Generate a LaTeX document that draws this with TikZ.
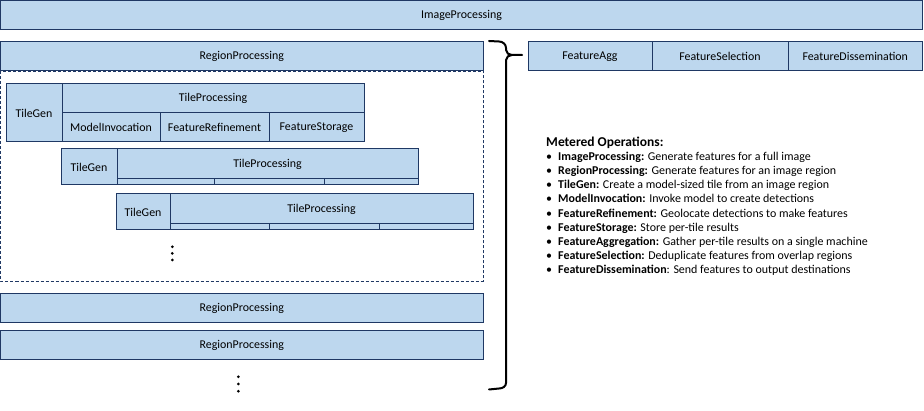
\documentclass[tikz,border=0pt]{standalone}
\usepackage{fontspec}
\setmainfont{Carlito}
\definecolor{boxfill}{HTML}{BDD7EE}
\definecolor{boxline}{HTML}{1F3864}
\tikzset{
  box/.style={draw=boxline, fill=boxfill, line width=1pt, inner sep=0pt, outer sep=0pt,
    anchor=north west, font=\fontsize{11.9}{14}\selectfont},
  dashbox/.style={draw=boxline, line width=0.8pt, dash pattern=on 3pt off 2pt},
  legitem/.style={anchor=base west, inner sep=0pt, font=\fontsize{11.95}{14}\selectfont},
  bracestyle/.style={draw=black, line width=2pt, line cap=round, line join=round},
}
\newcommand{\bx}[6]{\node[box, minimum width={#4-#2}, minimum height={#5-#3}] (#1) at (#2,#3) {#6};}
\begin{document}
\begin{tikzpicture}[x=1pt,y=-1pt]
\useasboundingbox (0,0) rectangle (924,411);
% top
\bx{img}{0.5}{1}{922.5}{29.3}{ImageProcessing}
% region 1
\draw[dashbox] (0.5,71) rectangle (483,281);
\bx{rpa}{0.5}{42}{483}{71}{RegionProcessing}
% tile row 1
\bx{tga}{6}{84}{62}{142}{TileGen}
\bx{tpa}{62}{84}{364}{113}{TileProcessing}
\bx{mia}{62}{113}{160}{142}{ModelInvocation}
\bx{fra}{160}{113}{269}{142}{FeatureRefinement}
\bx{fsa}{269}{113}{364}{142}{FeatureStorage}
% tile row 2
\bx{tgb}{61}{149}{117}{185}{TileGen}
\bx{tpb}{117}{149}{418}{179}{TileProcessing}
\bx{mib}{117}{179}{214}{185}{}
\bx{frb}{214}{179}{324}{185}{}
\bx{fsb}{324}{179}{418}{185}{}
% tile row 3
\bx{tgc}{116}{194}{170}{230}{TileGen}
\bx{tpc}{170}{194}{473}{224}{TileProcessing}
\bx{mic}{170}{224}{269}{230}{}
\bx{frc}{269}{224}{379}{230}{}
\bx{fsc}{379}{224}{473}{230}{}
% dots
\foreach \yy in {246.8,253.4,260} \fill (172.3,\yy) circle (1.5pt);
% region 2,3
\bx{rpb}{0.5}{294}{483}{323}{RegionProcessing}
\bx{rpc}{0.5}{331}{483}{360}{RegionProcessing}
\foreach \yy in {376.8,384,391.2} \fill (238.3,\yy) circle (1.5pt);
% brace
\draw[bracestyle] (489,41) -- (499,41.5) to[out=0,in=90] (506,48) -- (506,50)
   to[out=-90,in=180] (512,55) -- (522,55);
\draw[bracestyle] (512,55) to[out=180,in=90] (506,60) -- (506,383)
   to[out=-90,in=0] (499,388.5) -- (489,389.5);
% feature boxes
\bx{fagg}{528}{42}{652}{71}{FeatureAgg}
\bx{fsel}{652}{42}{788}{71}{FeatureSelection}
\bx{fdis}{788}{42}{922.5}{71}{FeatureDissemination}
% legend
\node[anchor=base west, inner sep=0pt, font=\fontsize{13.5}{16}\selectfont\bfseries] (legtitle) at (546,147) {Metered Operations:};
\node[legitem] (lga) at (546,160.5) {\makebox[12pt][l]{•}\textbf{ImageProcessing:} Generate features for a full image};
\node[legitem] (lgb) at (546,174.65) {\makebox[12pt][l]{•}\textbf{RegionProcessing:} Generate features for an image region};
\node[legitem] (lgc) at (546,188.8) {\makebox[12pt][l]{•}\textbf{TileGen:} Create a model-sized tile from an image region};
\node[legitem] (lgd) at (546,202.95) {\makebox[12pt][l]{•}\textbf{ModelInvocation:} Invoke model to create detections};
\node[legitem] (lge) at (546,217.1) {\makebox[12pt][l]{•}\textbf{FeatureRefinement:} Geolocate detections to make features};
\node[legitem] (lgf) at (546,231.25) {\makebox[12pt][l]{•}\textbf{FeatureStorage:} Store per-tile results};
\node[legitem] (lgg) at (546,245.4) {\makebox[12pt][l]{•}\textbf{FeatureAggregation:} Gather per-tile results on a single machine};
\node[legitem] (lgh) at (546,259.55) {\makebox[12pt][l]{•}\textbf{FeatureSelection:} Deduplicate features from overlap regions};
\node[legitem] (lgi) at (546,273.7) {\makebox[12pt][l]{•}\textbf{FeatureDissemination}: Send features to output destinations};
\end{tikzpicture}
\end{document}
